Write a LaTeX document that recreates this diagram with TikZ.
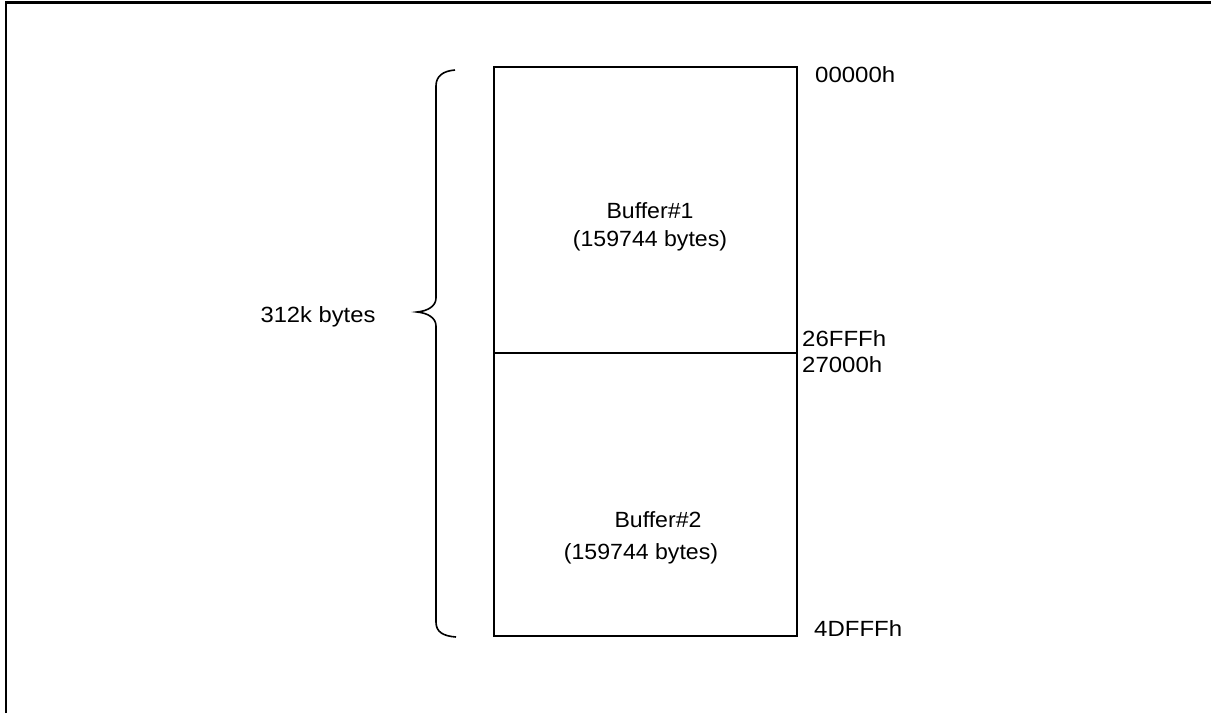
\documentclass[tikz,border=0pt]{standalone}
\usepackage{fontspec}
\setmainfont{Liberation Sans}
\newfontfamily\lblfont[FakeStretch=1.09]{Liberation Sans}
\newfontfamily\sizefont[FakeStretch=1.08]{Liberation Sans}
\newfontfamily\buffont[FakeStretch=1.05]{Liberation Sans}
\tikzset{
  frameline/.style={line width=2.8pt},
  memrect/.style={line width=2pt},
  braceline/.style={line width=1.6pt},
  addrlbl/.style={font=\lblfont\fontsize{22}{22}\selectfont, anchor=base west, inner sep=0pt},
  buftxt/.style={font=\buffont\fontsize{22}{22}\selectfont, anchor=base, inner sep=0pt},
  sizetxt/.style={font=\sizefont\fontsize{22}{22}\selectfont, anchor=base, inner sep=0pt}
}
\begin{document}
\begin{tikzpicture}[x=1pt,y=-1pt]
\useasboundingbox (0,0) rectangle (1211,713);
\fill[white] (0,0) rectangle (1211,713);
% frame
\draw[frameline] (6,713) -- (6,2.6) -- (1211,2.6);
% memory block
\coordinate (tl) at (494,67);
\coordinate (br) at (797,636);
\coordinate (divL) at (494,352.5);
\coordinate (divR) at (797,352.5);
\draw[memrect] (tl) rectangle (br);
\draw[memrect] (divL) -- (divR);
% brace
\draw[braceline] (455,70) .. controls (443,71) and (436,76) .. (436,86) -- (436,298)
  .. controls (436,306) and (428,311) .. (417,312)
  .. controls (428,313) and (436,318) .. (436,326) -- (436,622)
  .. controls (436,632) and (443,636) .. (456,637);
% texts
\node[sizetxt] (size) at (318,322.5) {312k bytes};
\node[buftxt] (b1) at (650,218.5) {Buffer\#1};
\node[buftxt] (b1s) at (650,246) {(159744 bytes)};
\node[buftxt] (b2) at (658,527) {Buffer\#2};
\node[buftxt] (b2s) at (641,559) {(159744 bytes)};
\node[addrlbl] (a0) at (815,82) {00000h};
\node[addrlbl] (a1) at (802,346.5) {26FFFh};
\node[addrlbl] (a2) at (802,372) {27000h};
\node[addrlbl] (a3) at (814,636) {4DFFFh};
\end{tikzpicture}
\end{document}
